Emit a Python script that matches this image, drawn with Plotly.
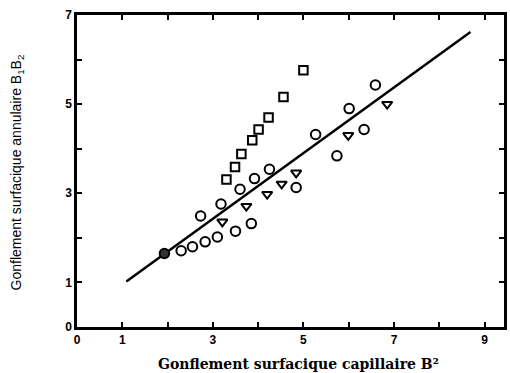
import plotly.graph_objects as go

# Data
sq_x = [3.30, 3.49, 3.63, 3.87, 4.01, 4.23, 4.56, 5.00]
sq_y = [3.31, 3.59, 3.88, 4.19, 4.43, 4.70, 5.16, 5.76]

ci_x = [2.30, 2.55, 2.83, 3.10, 3.50, 3.85, 2.73, 3.18, 3.60, 3.92, 4.25, 4.84, 5.27, 5.74, 6.01, 6.34, 6.59]
ci_y = [1.71, 1.80, 1.91, 2.02, 2.15, 2.32, 2.49, 2.76, 3.09, 3.33, 3.54, 3.13, 4.32, 3.84, 4.90, 4.43, 5.43]

filled_x = [1.93]
filled_y = [1.65]

tr_x = [3.21, 3.74, 4.20, 4.52, 4.84, 5.99, 6.85]
tr_y = [2.36, 2.71, 2.98, 3.21, 3.46, 4.30, 5.00]

line_x = [1.09, 8.69]
line_y = [1.02, 6.62]

x_tickvals = [0, 1, 3, 5, 7, 9]
y_tickvals = [0, 1, 3, 5, 7]

fig = go.Figure()
fig.add_trace(go.Scatter(x=line_x, y=line_y, mode="lines",
                         line=dict(color="black", width=2.5), hoverinfo="skip"))
fig.add_trace(go.Scatter(x=sq_x, y=sq_y, mode="markers",
                         marker=dict(symbol="square-open", size=8.5, color="black",
                                     line=dict(color="black", width=2))))
fig.add_trace(go.Scatter(x=ci_x, y=ci_y, mode="markers",
                         marker=dict(symbol="circle-open", size=9.5, color="black",
                                     line=dict(color="black", width=2))))
fig.add_trace(go.Scatter(x=filled_x, y=filled_y, mode="markers",
                         marker=dict(symbol="circle", size=9.5, color="#333",
                                     line=dict(color="black", width=2))))
fig.add_trace(go.Scatter(x=tr_x, y=tr_y, mode="markers",
                         marker=dict(symbol="triangle-down-open", size=9, color="black",
                                     line=dict(color="black", width=2))))

tickfont = dict(family="Liberation Sans", size=12, color="black", weight="bold")
minor = dict(dtick=1, tick0=0, ticks="inside", ticklen=5, tickwidth=2, tickcolor="black",
             showgrid=False)
fig.update_xaxes(range=[0, 9.43], tickmode="array", tickvals=x_tickvals,
                 ticks="inside", ticklen=5, tickwidth=2, tickcolor="black",
                 showline=True, linecolor="black", linewidth=2.5, mirror="ticks",
                 showgrid=False, zeroline=False, tickfont=tickfont, minor=minor)
fig.update_yaxes(range=[0, 7.0], tickmode="array", tickvals=y_tickvals,
                 ticks="inside", ticklen=5, tickwidth=2, tickcolor="black",
                 showline=True, linecolor="black", linewidth=2.5, mirror="ticks",
                 showgrid=False, zeroline=False, tickfont=tickfont, minor=minor)

fig.add_annotation(text="Gonflement surfacique capillaire B²", xref="paper", yref="paper",
                   x=(300 - 77) / 430, y=-(364 - 327) / 312, xanchor="center", yanchor="middle",
                   showarrow=False,
                   font=dict(family="DejaVu Serif", size=14, color="black", weight="bold"))
fig.add_annotation(text="Gonflement surfacique annulaire B<sub>1</sub>B<sub>2</sub>",
                   xref="paper", yref="paper", textangle=-90,
                   x=-(77 - 17) / 430, y=(327 - 172) / 312, xanchor="center", yanchor="middle",
                   showarrow=False,
                   font=dict(family="Liberation Sans", size=14, color="black"))

fig.update_layout(width=510, height=373, margin=dict(l=77, r=3, t=15, b=46),
                  paper_bgcolor="white", plot_bgcolor="white", showlegend=False)
fig.write_html("out.html")
